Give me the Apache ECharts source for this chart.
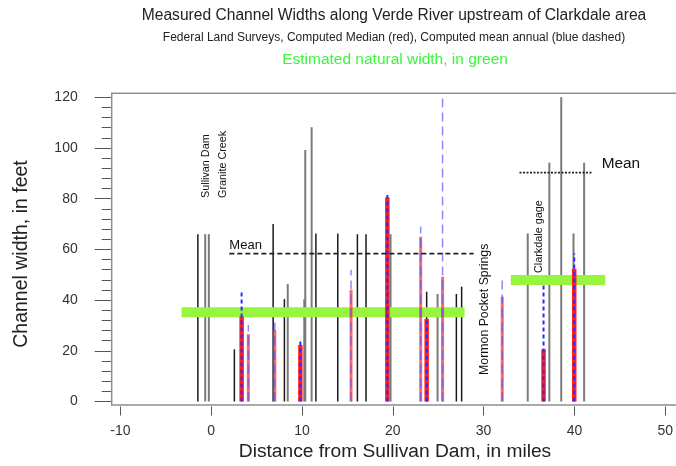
<!DOCTYPE html>
<html>
<head>
<meta charset="utf-8">
<script src="https://cdn.jsdelivr.net/npm/echarts@6/dist/echarts.min.js"></script>
<style>
html, body { margin: 0; padding: 0; background: #fff; }
#chart { width: 676px; height: 466px; }
</style>
</head>
<body>
<div id="chart"></div>
<script>
// Federal Land Surveys widths, [miles from Sullivan Dam, feet]
const surveyDark = [[-1.47, 66], [2.55, 20.6], [6.82, 70], [8.06, 40.4], [11.53, 66.3], [13.94, 66.3],
  [16.1, 66], [17.05, 66], [23.73, 43.3], [27.0, 42.4], [27.58, 45.3]];
const surveyGray = [[-0.66, 66], [-0.26, 66], [8.43, 46.4], [10.25, 40.3], [10.36, 99.2], [11.06, 108.2],
  [19.75, 66], [24.93, 42.4], [34.86, 66.3], [37.24, 94.2], [38.55, 120], [39.9, 66.3], [41.07, 94.2]];

// computed median (red) and computed mean annual (blue dashed)
const medianA = [[3.35, 33.5], [9.82, 22.3], [19.4, 80.5], [23.73, 32.6], [36.6, 20.6], [39.98, 52.4]];
const meanA = [[3.35, 43.3], [9.82, 24.5], [19.4, 81.5], [23.73, 32.6], [36.6, 46.3], [39.98, 58.5]];
const medianB = [[4.09, 26.6], [7.0, 28.2], [15.4, 44], [23.07, 65], [25.48, 49.2], [32.05, 41.3]];
const meanB = [[4.09, 30.2], [7.0, 33.0], [15.4, 52], [23.07, 69], [25.48, 119.5], [32.05, 49.5]];

// estimated natural width, [from mile, to mile, feet]
const naturalWidth = [[-3.26, 27.9, 35.2], [33.0, 43.4, 47.9]];
// reach means, [from mile, to mile, feet]
const reachMean = [[2.0, 28.9, 58.3], [33.95, 41.98, 90.3]];

const places = [[-0.6, 80.3, 'Sullivan Dam'], [1.27, 80.3, 'Granite Creek'],
  [30.1, 10.5, 'Mormon Pocket Springs'], [36.15, 50.7, 'Clarkdale gage']];
const meanLabels = [[2.0, 61.7, 'Mean'], [43.0, 93.7, 'Mean']];

const FONT = 'Liberation Sans, Arial, sans-serif';
const labelSize = { 'Mormon Pocket Springs': 12.3, 'Clarkdale gage': 10.8, 'Sullivan Dam': 10.8, 'Granite Creek': 10.8 };

// vertical stick from 0 up to the value
function sticks(data, color, width, dash, z) {
  return {
    type: 'custom', data: data, z: z, silent: true,
    encode: { x: 0, y: 1 },
    renderItem: function (params, api) {
      const p0 = api.coord([api.value(0), 0]);
      const p1 = api.coord([api.value(0), api.value(1)]);
      return {
        type: 'line',
        shape: { x1: p0[0], y1: p0[1], x2: p1[0], y2: p1[1] },
        style: { stroke: color, lineWidth: width, lineDash: dash }
      };
    }
  };
}

// horizontal segment between two miles
function spans(data, color, width, dash, z) {
  return {
    type: 'custom', data: data, z: z, silent: true,
    encode: { x: [0, 1], y: 2 },
    renderItem: function (params, api) {
      const p0 = api.coord([api.value(0), api.value(2)]);
      const p1 = api.coord([api.value(1), api.value(2)]);
      return {
        type: 'line',
        shape: { x1: p0[0], y1: p0[1], x2: p1[0], y2: p1[1] },
        style: { stroke: color, lineWidth: width, lineDash: dash }
      };
    }
  };
}

function labels(data, rotate, sizeOf, z) {
  return {
    type: 'custom', data: data, z: z, silent: true,
    encode: { x: 0, y: 1 },
    renderItem: function (params, api) {
      const p = api.coord([api.value(0), api.value(1)]);
      const txt = data[params.dataIndex][2];
      return {
        type: 'text', x: p[0], y: p[1], rotation: rotate ? Math.PI / 2 : 0,
        style: {
          text: txt, fill: '#111', font: sizeOf(txt, params.dataIndex) + 'px ' + FONT,
          align: 'left', verticalAlign: 'middle'
        }
      };
    }
  };
}

const chart = echarts.init(document.getElementById('chart'));
chart.setOption({
  animation: false,
  backgroundColor: '#fff',
  grid: { left: 120.4, right: 7.8, top: 97.3, bottom: 64.5 },
  xAxis: {
    type: 'value', min: -10, max: 50, interval: 10, offset: 5,
    axisLine: { show: false, onZero: false },
    axisTick: { length: 9, lineStyle: { color: '#555' } },
    axisLabel: { margin: 18, fontSize: 14, color: '#333', fontFamily: FONT },
    splitLine: { show: false }
  },
  yAxis: {
    type: 'value', min: 0, max: 120, interval: 20, offset: 8.7,
    axisLine: { show: false, onZero: false },
    axisTick: { show: true, length: 17, lineStyle: { color: '#555' } },
    minorTick: { show: true, splitNumber: 5, length: 10, lineStyle: { color: '#555' } },
    axisLabel: { margin: 34, fontSize: 14, color: '#333', fontFamily: FONT },
    splitLine: { show: false }
  },
  graphic: [
    { type: 'rect', shape: { x: 111.7, y: 93.3, width: 620, height: 311.7 },
      style: { fill: 'none', stroke: '#8f8f8f', lineWidth: 1.5 }, z: 1 },
    { type: 'text', x: 394, y: 16, style: { text: 'Measured Channel Widths along Verde River upstream of Clarkdale area',
      font: '15.6px ' + FONT, fill: '#222', align: 'center', verticalAlign: 'middle' } },
    { type: 'text', x: 394, y: 38, style: { text: 'Federal Land Surveys, Computed Median (red), Computed mean annual (blue dashed)',
      font: '12px ' + FONT, fill: '#222', align: 'center', verticalAlign: 'middle' } },
    { type: 'text', x: 395, y: 60, style: { text: 'Estimated natural width, in green',
      font: '15.5px ' + FONT, fill: '#3cf53c', align: 'center', verticalAlign: 'middle' } },
    { type: 'text', x: 395, y: 452, style: { text: 'Distance from Sullivan Dam, in miles',
      font: '19.2px ' + FONT, fill: '#222', align: 'center', verticalAlign: 'middle' } },
    { type: 'text', x: 22, y: 254, rotation: Math.PI / 2, style: { text: 'Channel width, in feet',
      font: '19.5px ' + FONT, fill: '#222', align: 'center', verticalAlign: 'middle' } }
  ],
  series: [
    sticks(surveyGray, '#7a7a7a', 2, null, 2),
    sticks(surveyDark, '#1a1a1a', 1.5, null, 3),
    spans(naturalWidth, '#96f53c', 10, null, 4),
    sticks(medianB, 'rgba(255,50,60,0.75)', 3, null, 5),
    sticks(meanB, 'rgba(90,90,255,0.7)', 1.5, [9, 5], 6),
    sticks(medianA, '#ff1f1f', 4.5, null, 5),
    sticks(meanA, '#2a2aff', 2, [4, 3], 6),
    spans(reachMean.slice(0, 1), '#222', 1.8, [5, 3], 7),
    spans(reachMean.slice(1), '#222', 1.8, [2, 1.5], 7),
    labels(places, true, function (t) { return labelSize[t]; }, 8),
    labels(meanLabels, false, function (t, i) { return i === 0 ? 13 : 15.4; }, 8)
  ]
});
</script>
</body>
</html>
